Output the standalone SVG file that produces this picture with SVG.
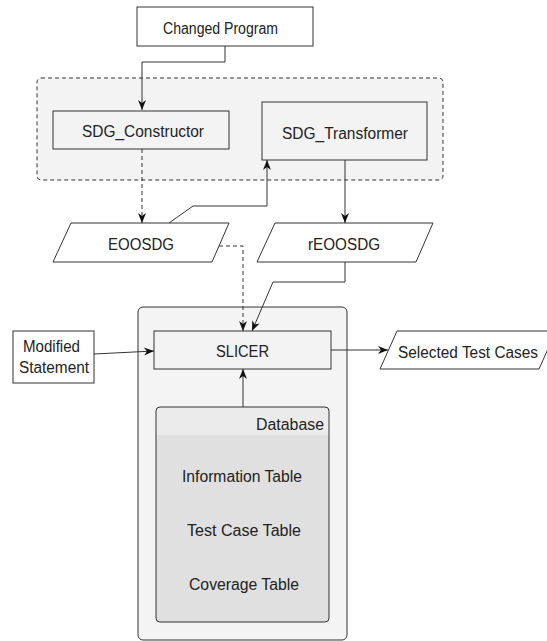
<svg xmlns="http://www.w3.org/2000/svg" width="547" height="641" viewBox="0 0 547 641">
  <style>
    .lbl { font-family: "Liberation Sans", Arial, sans-serif; font-size: 16px; fill: #222; }
    .box { stroke: #333; stroke-width: 1; }
    .white { fill: #ffffff; }
    .grey { fill: #f3f3f3; }
    .edge { fill: none; stroke: #333; stroke-width: 1; }
    .dash { stroke-dasharray: 4 3; }
  </style>
  <defs>
    <marker id="arrow" markerWidth="10" markerHeight="8" refX="10" refY="4" orient="auto" markerUnits="userSpaceOnUse" overflow="visible">
      <path d="M0,0 L10,4 L0,8 L3,4 z" fill="#111"/>
    </marker>
  </defs>

  <rect width="547" height="641" fill="#ffffff"/>

  <!-- containers -->
  <g id="sdg-group">
    <rect x="37" y="78" width="406" height="102" rx="4" fill="#f3f3f3" stroke="#333" stroke-dasharray="4 3"/>
  </g>
  <g id="slicer-group">
    <rect x="138" y="307" width="209" height="333" rx="5" fill="#f4f4f4" stroke="#333"/>
  </g>

  <!-- nodes -->
  <g id="changed-program">
    <rect class="box white" x="137" y="7" width="176" height="39"/>
    <text class="lbl" x="220.5" y="33.5" text-anchor="middle" textLength="115" lengthAdjust="spacingAndGlyphs">Changed Program</text>
  </g>
  <g id="sdg-constructor">
    <rect class="box grey" x="53" y="111" width="176" height="38"/>
    <text class="lbl" x="143" y="137" text-anchor="middle" textLength="122" lengthAdjust="spacingAndGlyphs">SDG_Constructor</text>
  </g>
  <g id="sdg-transformer">
    <rect class="box grey" x="262" y="102" width="165" height="58"/>
    <text class="lbl" x="345" y="139" text-anchor="middle" textLength="126" lengthAdjust="spacingAndGlyphs">SDG_Transformer</text>
  </g>
  <g id="eoosdg">
    <polygon class="box white" points="71,223 229,223 212,262 53,262"/>
    <text class="lbl" x="141" y="249.5" text-anchor="middle" textLength="66" lengthAdjust="spacingAndGlyphs">EOOSDG</text>
  </g>
  <g id="reoosdg">
    <polygon class="box white" points="275,223 433,223 416,262 257,262"/>
    <text class="lbl" x="344" y="249.5" text-anchor="middle" textLength="72" lengthAdjust="spacingAndGlyphs">rEOOSDG</text>
  </g>
  <g id="modified-statement">
    <rect class="box white" x="13" y="331" width="81" height="52"/>
    <text class="lbl" x="51.5" y="352" text-anchor="middle" textLength="57" lengthAdjust="spacingAndGlyphs">Modified</text>
    <text class="lbl" x="54" y="373" text-anchor="middle" textLength="70" lengthAdjust="spacingAndGlyphs">Statement</text>
  </g>
  <g id="slicer">
    <rect class="box grey" x="154" y="331" width="177" height="38"/>
    <text class="lbl" x="242.5" y="357" text-anchor="middle" textLength="53" lengthAdjust="spacingAndGlyphs">SLICER</text>
  </g>
  <g id="selected-test-cases">
    <polygon class="box white" points="397,331 556,331 539,369 380,369"/>
    <text class="lbl" x="468" y="358" text-anchor="middle" textLength="140" lengthAdjust="spacingAndGlyphs">Selected Test Cases</text>
  </g>
  <g id="database">
    <rect x="156" y="407" width="173" height="215" rx="4" fill="#e0e0e0"/>
    <path d="M156,435 V411 A4,4 0 0 1 160,407 H325 A4,4 0 0 1 329,411 V435 Z" fill="#ebebeb"/>
    <rect x="156" y="407" width="173" height="215" rx="4" fill="none" stroke="#333"/>
    <text class="lbl" x="324" y="430" text-anchor="end" textLength="68" lengthAdjust="spacingAndGlyphs">Database</text>
    <text class="lbl" x="242" y="482" text-anchor="middle" textLength="120" lengthAdjust="spacingAndGlyphs">Information Table</text>
    <text class="lbl" x="244" y="536" text-anchor="middle" textLength="114" lengthAdjust="spacingAndGlyphs">Test Case Table</text>
    <text class="lbl" x="244" y="590" text-anchor="middle" textLength="110" lengthAdjust="spacingAndGlyphs">Coverage Table</text>
  </g>

  <!-- connectors -->
  <g id="connectors">
    <path class="edge" d="M225,46 V62 H142 V110" marker-end="url(#arrow)"/>
    <path class="edge dash" d="M142,149 V223" marker-end="url(#arrow)"/>
    <path class="edge" d="M169,223 L193,206 H267 V160" marker-end="url(#arrow)"/>
    <path class="edge" d="M345,160 V223" marker-end="url(#arrow)"/>
    <path class="edge dash" d="M219,246 H243 V331" marker-end="url(#arrow)"/>
    <path class="edge" d="M345,262 V282 H273 L252,331" marker-end="url(#arrow)"/>
    <path class="edge" d="M94,354 L154,351" marker-end="url(#arrow)"/>
    <path class="edge" d="M331,350 H388" marker-end="url(#arrow)"/>
    <path class="edge" d="M243,407 V369" marker-end="url(#arrow)"/>
  </g>
</svg>
